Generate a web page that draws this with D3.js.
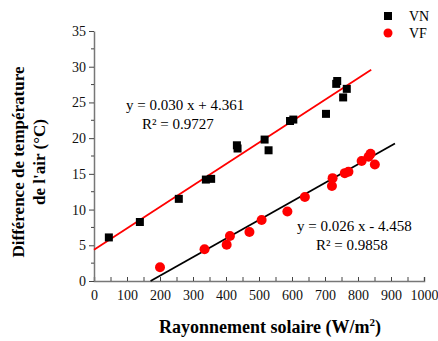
<!DOCTYPE html>
<html>
<head>
<meta charset="utf-8">
<script src="https://cdn.jsdelivr.net/npm/d3@7"></script>
<style>
  body { margin: 0; background: #fff; }
  text { font-family: "Liberation Serif", "Times New Roman", serif; }
</style>
</head>
<body>
<div class="chart"></div>
<script>
// VN series (black squares)
var vnX = [45, 139, 257, 339, 355, 433, 435, 517, 529, 594, 604, 703, 734, 737, 755, 766];
var vnY = [6.1, 8.26, 11.5, 14.2, 14.3, 19.0, 18.55, 19.8, 18.3, 22.4, 22.6, 23.4, 27.6, 28.0, 25.7, 26.9];

// VF series (red circles)
var vfX = [200, 335, 402, 412, 471, 508, 586, 639, 723, 721, 760, 771, 811, 832, 838, 851];
var vfY = [1.92, 4.44, 5.08, 6.3, 6.86, 8.54, 9.73, 11.76, 14.4, 13.3, 15.1, 15.3, 16.8, 17.4, 17.8, 16.3];

// regression lines
var vnFit = { slope: 0.030, intercept: 4.361, x0: 0, x1: 840 };
var vfFit = { slope: 0.026, intercept: -4.458, x0: 4.458 / 0.026, x1: 912 };

var xTicks = [0, 100, 200, 300, 400, 500, 600, 700, 800, 900, 1000];
var yTicks = [0, 5, 10, 15, 20, 25, 30, 35];

var svg = d3.select(".chart").append("svg")
  .attr("width", 438)
  .attr("height", 341);

var xScale = d3.scaleLinear().domain([0, 1000]).range([94, 424]);
var yScale = d3.scaleLinear().domain([0, 35]).range([281, 31]);

// x axis: ticks pointing up
var xAxis = svg.append("g")
  .attr("transform", "translate(0,281)")
  .call(d3.axisBottom(xScale).tickValues(d3.range(0, 1001, 50)).tickSize(-4).tickPadding(9)
    .tickFormat(d => xTicks.indexOf(d) >= 0 ? d : ""));
xAxis.select(".domain").attr("stroke", "#777").attr("stroke-width", 1.5);
xAxis.selectAll(".tick line").attr("stroke", "#444");
xAxis.selectAll(".tick text").style("font-size", "14px").attr("fill", "#111");

// y axis: major ticks out, minor ticks small
var yAxis = svg.append("g")
  .attr("transform", "translate(94,0)")
  .call(d3.axisLeft(yScale).tickValues(yTicks).tickSize(5).tickPadding(3).tickSizeOuter(0));
yAxis.select(".domain").attr("stroke", "#777").attr("stroke-width", 1.5);
yAxis.selectAll(".tick line").attr("stroke", "#444");
yAxis.selectAll(".tick text").style("font-size", "14px").attr("fill", "#111");

svg.append("g").selectAll("line")
  .data(d3.range(2.5, 35, 5))
  .enter().append("line")
  .attr("x1", 91).attr("x2", 94)
  .attr("y1", d => yScale(d)).attr("y2", d => yScale(d))
  .attr("stroke", "#444");

// fit lines
svg.append("line")
  .attr("x1", xScale(vnFit.x0)).attr("y1", yScale(vnFit.slope * vnFit.x0 + vnFit.intercept))
  .attr("x2", xScale(vnFit.x1)).attr("y2", yScale(vnFit.slope * vnFit.x1 + vnFit.intercept))
  .attr("stroke", "#ff0000").attr("stroke-width", 1.8);

svg.append("line")
  .attr("x1", xScale(vfFit.x0)).attr("y1", yScale(vfFit.slope * vfFit.x0 + vfFit.intercept))
  .attr("x2", xScale(vfFit.x1)).attr("y2", yScale(vfFit.slope * vfFit.x1 + vfFit.intercept))
  .attr("stroke", "#000").attr("stroke-width", 1.8);

// points
svg.append("g").selectAll("rect")
  .data(vnX)
  .enter().append("rect")
  .attr("x", (d, i) => xScale(d) - 4)
  .attr("y", (d, i) => yScale(vnY[i]) - 4)
  .attr("width", 8).attr("height", 8)
  .attr("fill", "#000");

svg.append("g").selectAll("circle")
  .data(vfX)
  .enter().append("circle")
  .attr("cx", d => xScale(d))
  .attr("cy", (d, i) => yScale(vfY[i]))
  .attr("r", 5)
  .attr("fill", "#ff0000");

// equations
svg.append("text").attr("x", 126).attr("y", 110).style("font-size", "15px").text("y = 0.030 x + 4.361");
svg.append("text").attr("x", 142).attr("y", 129).style("font-size", "15px").text("R² = 0.9727");
svg.append("text").attr("x", 297).attr("y", 231).style("font-size", "15px").text("y = 0.026 x - 4.458");
svg.append("text").attr("x", 316).attr("y", 250).style("font-size", "15px").text("R² = 0.9858");

// legend
svg.append("rect").attr("x", 384).attr("y", 12).attr("width", 8).attr("height", 8).attr("fill", "#000");
svg.append("text").attr("x", 409).attr("y", 21).style("font-size", "14px").text("VN");
svg.append("circle").attr("cx", 388).attr("cy", 33).attr("r", 4.5).attr("fill", "#ff0000");
svg.append("text").attr("x", 409).attr("y", 38).style("font-size", "14px").text("VF");

// axis titles
var xt = svg.append("text")
  .attr("x", 270).attr("y", 333)
  .attr("text-anchor", "middle")
  .style("font-size", "18px").style("font-weight", "bold")
  .text("Rayonnement solaire (W/m");
xt.append("tspan").attr("dy", -7).style("font-size", "11px").text("2");
xt.append("tspan").attr("dy", 7).text(")");

var yt = svg.append("text")
  .attr("transform", "translate(0,162) rotate(-90)")
  .attr("text-anchor", "middle")
  .style("font-size", "17px").style("font-weight", "bold");
yt.append("tspan").attr("x", 0).attr("y", 24).text("Différence de température");
yt.append("tspan").attr("x", 0).attr("y", 45).text("de l'air (°C)");
</script>
</body>
</html>
